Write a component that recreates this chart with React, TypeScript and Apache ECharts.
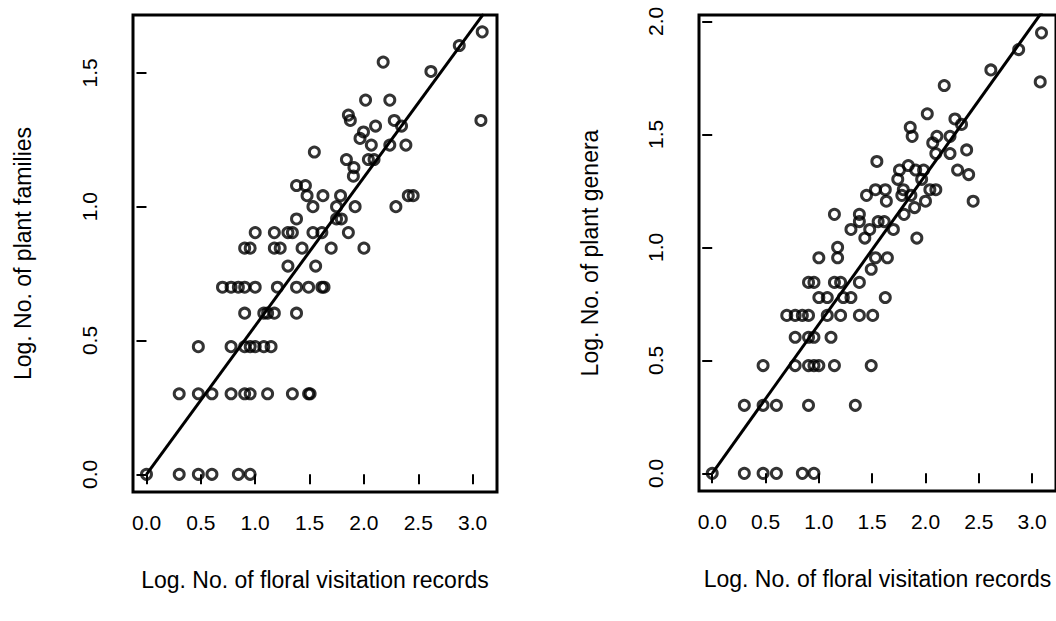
import React, { useEffect, useRef } from "react";
import * as echarts from "echarts";

// Log10-transformed counts, [visitation records, plant families]
const familyPoints: [number, number][] = [
  [0, 0], [0.301, 0], [0.477, 0], [0.602, 0], [0.845, 0], [0.954, 0],
  [0.301, 0.301], [0.477, 0.301], [0.602, 0.301], [0.778, 0.301], [0.903, 0.301],
  [0.954, 0.301], [1.114, 0.301], [1.342, 0.301], [1.491, 0.301], [1.505, 0.301],
  [0.477, 0.477], [0.778, 0.477], [0.903, 0.477], [0.954, 0.477], [1.0, 0.477],
  [1.079, 0.477], [1.146, 0.477],
  [0.903, 0.602], [1.079, 0.602], [1.114, 0.602], [1.176, 0.602], [1.38, 0.602],
  [0.699, 0.699], [0.778, 0.699], [0.845, 0.699], [0.903, 0.699], [1.0, 0.699],
  [1.204, 0.699], [1.38, 0.699], [1.491, 0.699], [1.613, 0.699], [1.633, 0.699],
  [1.301, 0.778], [1.556, 0.778],
  [0.903, 0.845], [0.954, 0.845], [1.176, 0.845], [1.23, 0.845], [1.431, 0.845],
  [1.699, 0.845], [2.0, 0.845],
  [1.0, 0.903], [1.176, 0.903], [1.301, 0.903], [1.342, 0.903], [1.531, 0.903],
  [1.613, 0.903], [1.857, 0.903],
  [1.38, 0.954], [1.748, 0.954], [1.792, 0.954],
  [1.531, 1.0], [1.748, 1.0], [1.919, 1.0], [2.294, 1.0],
  [1.477, 1.041], [1.623, 1.041], [1.785, 1.041], [2.408, 1.041], [2.453, 1.041],
  [1.38, 1.079], [1.462, 1.079],
  [1.903, 1.114], [1.908, 1.146],
  [1.839, 1.176], [2.041, 1.176], [2.093, 1.176],
  [1.544, 1.204],
  [2.068, 1.23], [2.238, 1.23], [2.386, 1.23],
  [1.964, 1.255], [1.996, 1.279],
  [2.107, 1.301], [2.346, 1.301],
  [1.875, 1.322], [2.279, 1.322], [3.076, 1.322],
  [1.857, 1.342],
  [2.015, 1.398], [2.238, 1.398],
  [2.616, 1.505], [2.177, 1.54], [2.877, 1.602], [3.088, 1.653],
];

// [visitation records, plant genera]
const generaPoints: [number, number][] = [
  [0, 0], [0.301, 0], [0.477, 0], [0.602, 0], [0.845, 0], [0.954, 0],
  [0.301, 0.301], [0.477, 0.301], [0.602, 0.301], [0.903, 0.301], [1.342, 0.301],
  [0.477, 0.477], [0.778, 0.477], [0.903, 0.477], [0.954, 0.477], [1.0, 0.477],
  [1.146, 0.477], [1.491, 0.477],
  [0.778, 0.602], [0.903, 0.602], [0.954, 0.602], [1.114, 0.602],
  [0.699, 0.699], [0.778, 0.699], [0.845, 0.699], [0.903, 0.699], [1.079, 0.699],
  [1.204, 0.699], [1.38, 0.699], [1.505, 0.699],
  [1.0, 0.778], [1.079, 0.778], [1.23, 0.778], [1.301, 0.778], [1.623, 0.778],
  [0.903, 0.845], [0.954, 0.845], [1.146, 0.845], [1.204, 0.845], [1.38, 0.845],
  [1.491, 0.903],
  [1.0, 0.954], [1.176, 0.954], [1.531, 0.954], [1.643, 0.954],
  [1.176, 1.0],
  [1.431, 1.041], [1.919, 1.041],
  [1.301, 1.079], [1.477, 1.079], [1.699, 1.079],
  [1.38, 1.114], [1.556, 1.114], [1.613, 1.114],
  [1.146, 1.146], [1.38, 1.146], [1.799, 1.146],
  [1.898, 1.176],
  [1.633, 1.204], [2.0, 1.204], [2.447, 1.204],
  [1.447, 1.23], [1.778, 1.23], [1.863, 1.23],
  [1.531, 1.255], [1.623, 1.255], [1.792, 1.255], [2.041, 1.255], [2.097, 1.255],
  [1.74, 1.301], [1.964, 1.301],
  [2.405, 1.322],
  [1.756, 1.342], [1.908, 1.342], [1.982, 1.342], [2.301, 1.342],
  [1.839, 1.362], [1.544, 1.38],
  [2.097, 1.415], [2.23, 1.415],
  [2.386, 1.431], [2.068, 1.462],
  [1.875, 1.491], [2.107, 1.491], [2.23, 1.491],
  [1.857, 1.531], [2.338, 1.544], [2.276, 1.568], [2.017, 1.591],
  [2.176, 1.716], [3.076, 1.732], [2.613, 1.785], [2.874, 1.875], [3.088, 1.949],
];

// fitted lines (through the origin)
const familyFit: [number, number][] = [[0, 0], [3.1, 1.72]];
const generaFit: [number, number][] = [[0, 0], [3.1, 2.046]];

const xTicks = [0, 0.5, 1, 1.5, 2, 2.5, 3];
const familyYTicks = [0, 0.5, 1, 1.5];
const generaYTicks = [0, 0.5, 1, 1.5, 2];

const xTitle = "Log. No. of floral visitation records";
const familyYTitle = "Log. No. of plant families";
const generaYTitle = "Log. No. of plant genera";

const FONT = "'Liberation Sans', Arial, Helvetica, sans-serif";
const FS_TICK = 21;
const FS_TITLE = 23;

function xAxis(gridIndex: number) {
  return {
    type: "value",
    gridIndex,
    min: -0.124,
    max: 3.224,
    name: xTitle,
    nameLocation: "middle",
    nameGap: 76,
    nameTextStyle: { color: "#000", fontSize: FS_TITLE, fontFamily: FONT },
    axisLine: { show: false },
    splitLine: { show: false },
    axisTick: {
      show: true,
      customValues: xTicks,
      length: 10,
      lineStyle: { color: "#000", width: 2 },
    },
    axisLabel: {
      customValues: xTicks,
      formatter: (v: number) => v.toFixed(1),
      color: "#000",
      fontSize: FS_TICK,
      fontFamily: FONT,
      margin: 20,
    },
  };
}

function yAxis(gridIndex: number, min: number, max: number, ticks: number[], name: string, gap: number) {
  return {
    type: "value",
    gridIndex,
    min,
    max,
    name,
    nameLocation: "middle",
    nameGap: gap,
    nameRotate: 90,
    nameTextStyle: { color: "#000", fontSize: FS_TITLE, fontFamily: FONT },
    axisLine: { show: false },
    splitLine: { show: false },
    axisTick: {
      show: true,
      customValues: ticks,
      length: 10,
      lineStyle: { color: "#000", width: 2 },
    },
    axisLabel: {
      customValues: ticks,
      formatter: (v: number) => v.toFixed(1),
      rotate: 90,
      color: "#000",
      fontSize: FS_TICK,
      fontFamily: FONT,
      margin: 33,
    },
  };
}

const pointStyle = {
  color: "rgba(0,0,0,0)",
  borderColor: "#000",
  borderWidth: 3,
};

export default function App() {
  const ref = useRef<HTMLDivElement>(null);
  useEffect(() => {
    if (!ref.current) return;
    const chart = echarts.init(ref.current, null, { renderer: "svg" });
    chart.setOption({
      animation: false,
      backgroundColor: "#fff",
      grid: [
        { left: 133, top: 15, width: 364, height: 477, show: true, borderColor: "#000", borderWidth: 3, backgroundColor: "transparent" },
        { left: 699, top: 15, width: 364, height: 476, show: true, borderColor: "#000", borderWidth: 3, backgroundColor: "transparent" },
      ],
      xAxis: [xAxis(0), xAxis(1)],
      yAxis: [
        yAxis(0, -0.066, 1.716, familyYTicks, familyYTitle, 99),
        yAxis(1, -0.078, 2.028, generaYTicks, generaYTitle, 98),
      ],
      series: [
        { type: "scatter", xAxisIndex: 0, yAxisIndex: 0, data: familyPoints, symbol: "circle", symbolSize: 10, itemStyle: pointStyle, z: 3 },
        { type: "line", xAxisIndex: 0, yAxisIndex: 0, data: familyFit, showSymbol: false, clip: true, lineStyle: { color: "#000", width: 3 }, z: 4 },
        { type: "scatter", xAxisIndex: 1, yAxisIndex: 1, data: generaPoints, symbol: "circle", symbolSize: 10, itemStyle: pointStyle, z: 3 },
        { type: "line", xAxisIndex: 1, yAxisIndex: 1, data: generaFit, showSymbol: false, clip: true, lineStyle: { color: "#000", width: 3 }, z: 4 },
      ],
    });
    return () => chart.dispose();
  }, []);
  return <div ref={ref} style={{ position: "absolute", left: 0, top: 0, width: 1056, height: 621 }} />;
}
